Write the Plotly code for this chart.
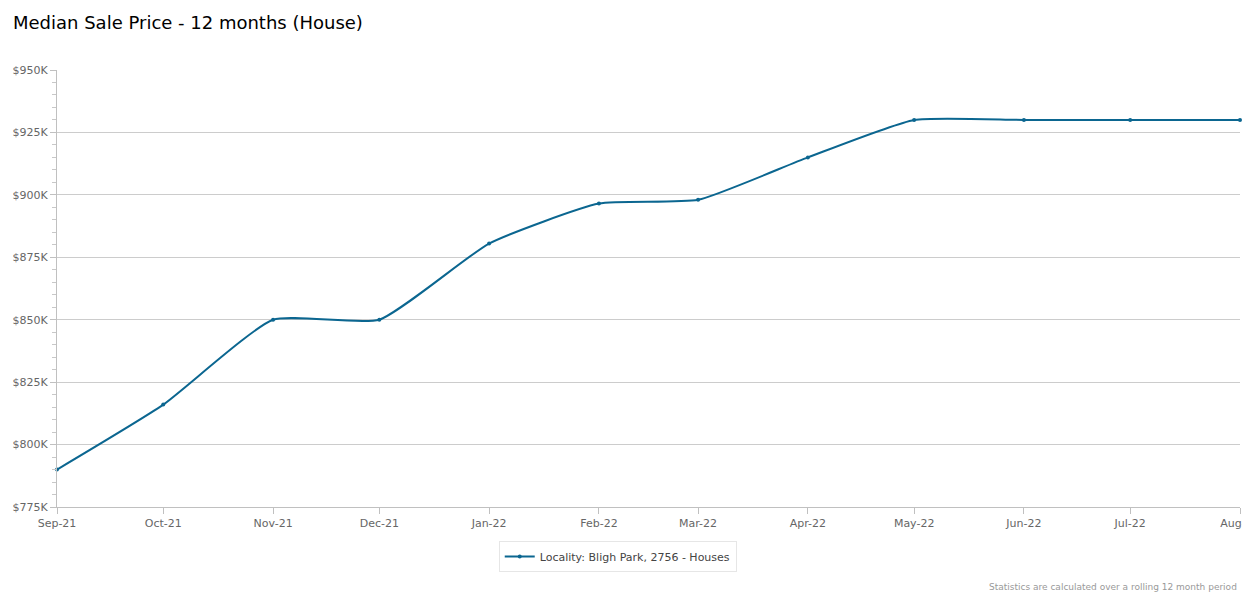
import plotly.graph_objects as go

months = ["2021-09-01", "2021-10-01", "2021-11-01", "2021-12-01", "2022-01-01", "2022-02-01",
          "2022-03-01", "2022-04-01", "2022-05-01", "2022-06-01", "2022-07-01", "2022-08-01"]
median_price = [790000, 816000, 850000, 850000, 880500, 896500, 898000, 915000, 930000, 930000, 930000, 930000]
y_ticks = [775000, 800000, 825000, 850000, 875000, 900000, 925000, 950000]
y_tick_labels = ["$775K", "$800K", "$825K", "$850K", "$875K", "$900K", "$925K", "$950K"]
series_name = "Locality: Bligh Park, 2756 - Houses"

W, H = 1242, 592

fig = go.Figure()
fig.add_trace(go.Scatter(
    x=months, y=median_price, mode="lines+markers", name=series_name,
    line=dict(color="#0b6690", width=2, shape="spline", smoothing=0.5),
    marker=dict(size=4, color="#0b6690"),
    cliponaxis=False,
))

fig.update_layout(
    width=W, height=H,
    paper_bgcolor="white", plot_bgcolor="white",
    margin=dict(l=49, r=10, t=62, b=93),
    font=dict(family="DejaVu Sans", color="#666666", size=11),
    title=dict(text="Median Sale Price - 12 months (House)", x=5 / W, xanchor="left",
               y=1 - 15 / H, yanchor="middle", font=dict(size=18, color="#000000")),
    showlegend=True,
    legend=dict(orientation="h", x=0.474, xanchor="center", y=-0.078, yanchor="top",
                itemwidth=30,
                bordercolor="#e6e6e6", borderwidth=1, font=dict(size=11, color="#444444")),
    xaxis=dict(
        type="date", range=["2021-09-01", "2022-08-01"],
        tickvals=months, tickformat="%b-%y", automargin=False, ticklabeloverflow="allow",
        showgrid=False, showline=True, linecolor="#c0c0c0", linewidth=1,
        ticks="outside", ticklen=6, tickcolor="#c0c0c0",
        tickfont=dict(size=11, color="#666666"), zeroline=False,
    ),
    yaxis=dict(
        range=[775000, 950000], tickvals=y_ticks, ticktext=y_tick_labels, automargin=False,
        showgrid=True, gridcolor="#cccccc", gridwidth=1,
        showline=True, linecolor="#c0c0c0", linewidth=1,
        ticks="outside", ticklen=6, tickcolor="#c0c0c0",
        minor=dict(dtick=5000, ticks="outside", ticklen=4, tickcolor="#c8c8c8", showgrid=False),
        tickfont=dict(size=11, color="#666666"), zeroline=False,
    ),
)

fig.add_annotation(text="Statistics are calculated over a rolling 12 month period",
                   xref="paper", yref="paper", x=0.999, y=-0.183, xanchor="right", yanchor="middle",
                   showarrow=False, font=dict(size=9, color="#999999"))

fig.write_html("out.html")
